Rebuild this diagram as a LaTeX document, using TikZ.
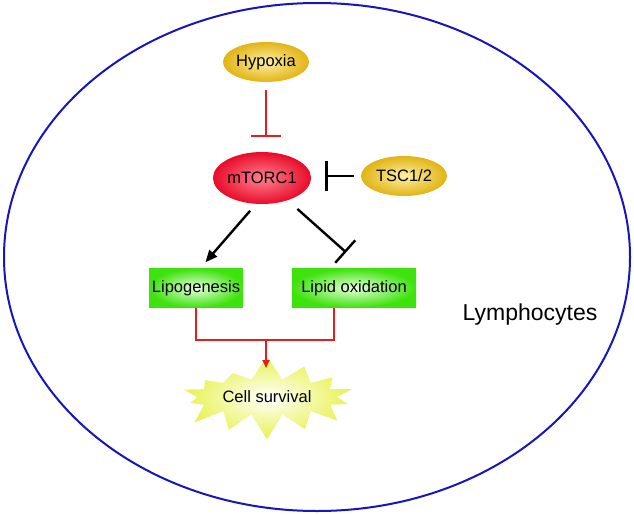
\documentclass[tikz,border=0pt]{standalone}
\usepackage{fontspec}
\setmainfont{Liberation Sans}
\usetikzlibrary{arrows}
\usetikzlibrary{arrows.meta}
\usetikzlibrary{positioning}
\usetikzlibrary{shapes.geometric, shapes.symbols}
\definecolor{wallblue}{RGB}{22,22,188}
\definecolor{goldedge}{RGB}{226,180,20}
\definecolor{goldcore}{RGB}{252,240,165}
\definecolor{redcore}{RGB}{255,130,145}
\definecolor{rededge}{RGB}{232,12,42}
\definecolor{greenedge}{RGB}{62,226,12}
\definecolor{greencore}{RGB}{232,255,222}
\definecolor{burstedge}{RGB}{232,242,80}
\definecolor{linkred}{RGB}{226,30,30}
\tikzstyle{signal} = [ellipse, minimum width=86pt, minimum height=40pt, inner sep=0pt, shading=radial, inner color=goldcore, outer color=goldedge, font=\fontsize{16.5}{19}\selectfont]
\tikzstyle{hub} = [ellipse, minimum width=82pt, minimum height=52pt, inner sep=0pt, shading=radial, inner color=redcore, outer color=rededge, font=\fontsize{16.5}{19}\selectfont]
\tikzstyle{process} = [rectangle, minimum height=39pt, inner sep=0pt, shading=radial, inner color=greencore, outer color=greenedge, font=\fontsize{16.5}{19}\selectfont]
\tikzstyle{outcome} = [starburst, starburst points=14, starburst point height=25pt, random starburst=7, minimum width=190pt, minimum height=86pt, inner sep=0pt, shading=radial, inner color=white, outer color=burstedge, font=\fontsize{16.5}{19}\selectfont]
\tikzstyle{arrow} = [-{Triangle[length=12pt,width=10pt]}, line width=2.4pt]
\tikzstyle{block} = [-{Bar[width=30pt]}, line width=2.4pt]
\tikzstyle{feed} = [line width=1.8pt, draw=linkred]

\begin{document}
\begin{tikzpicture}[x=1pt, y=-1pt, node distance=110pt]
  \useasboundingbox (0,0) rectangle (634,514);

  % the cell wall
  \draw [wallblue, line width=2pt] (317,257) ellipse [x radius=313, y radius=254];

  % We start by placing the nodes
  \node (mtorc) [hub] at (262,178) {mTORC1};
  \node (hypoxia) [signal, above of=mtorc, xshift=4pt, yshift=6pt] {Hypoxia};
  \node (tsc) [signal, right of=mtorc, xshift=32pt, yshift=2pt] {TSC1/2};
  \node (lipo) [process, below of=mtorc, xshift=-66pt, minimum width=94pt] {Lipogenesis};
  \node (lipid) [process, below of=mtorc, xshift=92pt, minimum width=124pt] {Lipid oxidation};
  \node (cell) [outcome, below of=lipo, xshift=71pt, yshift=1pt] {Cell survival};
  \node (lympho) [right of=lipid, xshift=66pt, yshift=-27pt, font=\fontsize{23}{27}\selectfont] {Lymphocytes};
  \coordinate (fork) at (266,340);

  % Draw the connections between nodes
  \draw [block, linkred, line width=1.8pt, shorten <=8pt, shorten >=15pt] (hypoxia.south) -- (hypoxia.south |- mtorc.north);
  \draw [block, shorten <=7pt, shorten >=14pt] (tsc.west) -- (tsc.west -| mtorc.east);
  \draw [arrow, shorten <=9pt, shorten >=8pt] (mtorc.257) -- (lipo.78);
  \draw [block, shorten <=13pt, shorten >=24pt] (mtorc.319) -- (lipid.63);
  \draw [feed] (lipo.south) |- (fork) -| ([xshift=-20pt]lipid.south);
  \draw [feed, -{Triangle[length=8pt,width=7pt]}, shorten >=29pt] (fork) -- (fork |- cell.center);

\end{tikzpicture}
\end{document}
